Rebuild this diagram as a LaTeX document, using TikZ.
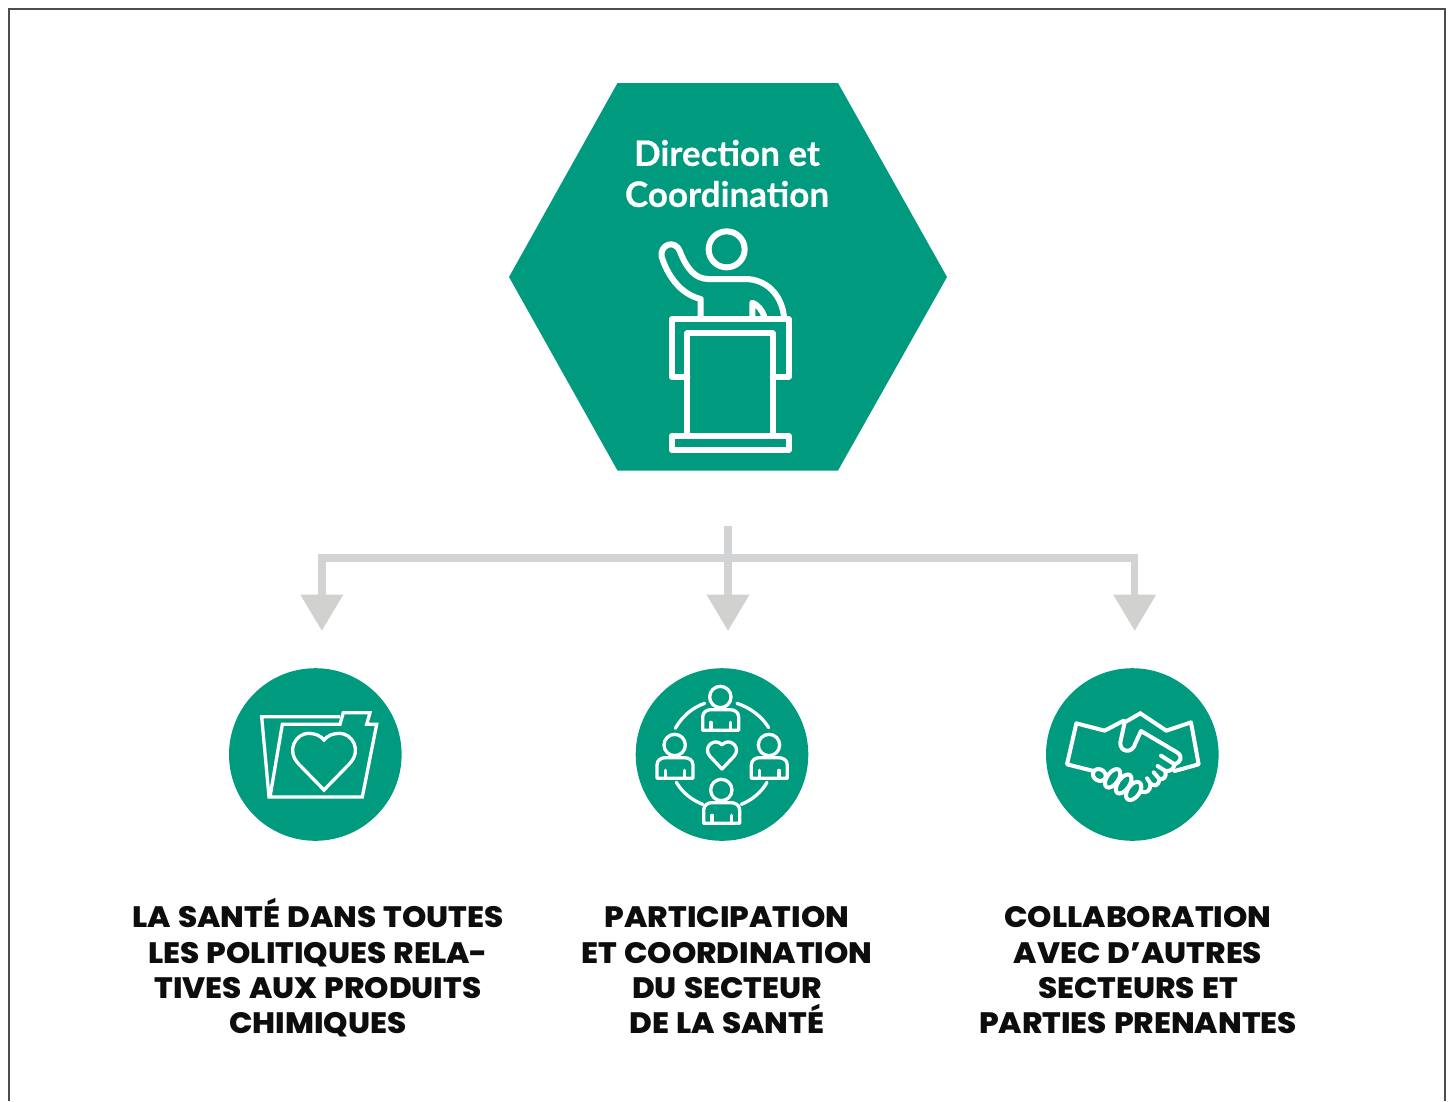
\documentclass[tikz,border=0pt]{standalone}
\usepackage{fontspec}
\setmainfont[BoldFont={Poppins ExtraBold}, BoldFeatures={FakeStretch=1.05, WordSpace=1.2}]{Poppins}
\newfontfamily\hexfont[BoldFeatures={FakeBold=0.4}]{Lato}
\usetikzlibrary{arrows.meta, calc}
\definecolor{brandgreen}{HTML}{009B7F}
\definecolor{flowgray}{HTML}{D1D3D4}
\definecolor{tipgray}{HTML}{D1D1CF}
\definecolor{framegray}{HTML}{4D4D4D}
\tikzset{
  iconcircle/.style={circle, fill=brandgreen, minimum size=172.6pt, inner sep=0pt},
  flowline/.style={draw=flowgray, line width=7.5pt},
  flowarrow/.style={flowline, -{Triangle[width=41pt, length=36.5pt, color=tipgray]}},
  iconline/.style={draw=white, line join=round, line cap=round},
  captext/.style={font=\fontsize{29.5}{35.3}\selectfont\bfseries, align=center, text=black!95, inner sep=0pt,
    execute at begin node=\vphantom{É}, execute at end node=\strut},
  zoomcrop/.style={x=0.3333pt, y=-0.3333pt}
}

\begin{document}
\begin{tikzpicture}[x=1pt, y=-1pt]
    \useasboundingbox (0,0) rectangle (1453,1101);
    \draw[framegray, line width=1.2pt] (9,1101) -- (9,9) -- (1445,9) -- (1445,1101);

    \fill[brandgreen] (509,277) -- (617.5,83) -- (838,83) -- (947,277) -- (838,470.5) -- (617.5,470.5) -- cycle;
    \node[font=\hexfont\fontsize{35}{41}\selectfont\bfseries, text=white, align=center] (hexlabel) at (727,173.5) {
      Direction et\\
      Coordination
    };

    \begin{scope}[shift={(630,220)}, zoomcrop, iconline, line width=6pt]
      \draw (290,88) circle[radius=54];
      \draw (212,290) -- (212,237) .. controls (150,222) and (112,165) .. (95,110)
        .. controls (88,75) and (135,55) .. (150,95)
        .. controls (170,145) and (195,177) .. (235,177) -- (345,177)
        .. controls (410,177) and (455,225) .. (462,290);
      \draw (367,290) -- (367,248) .. controls (385,255) and (397,272) .. (403,290);
      \draw (172,470) -- (125,470) -- (125,298) -- (476,298) -- (476,470) -- (428,470);
      \draw (172,648) -- (172,340) -- (428,340) -- (428,648);
      \draw (125,648) rectangle (476,690);
    \end{scope}

    \coordinate (trunktop) at (728,526);
    \coordinate (barleft) at (321.8,558);
    \coordinate (barright) at (1134.7,558);
    \coordinate (tipleft) at (321.8,631);
    \coordinate (tipmid) at (728,631);
    \coordinate (tipright) at (1134.7,631);
    \draw[flowline] (barleft) -- (barright);
    \draw[flowarrow] (trunktop) -- (tipmid);
    \foreach \from/\to in {barleft/tipleft, barright/tipright} {
      \draw[flowarrow] ($(\from)+(0,-3.75)$) -- (\to);
    }

    \node[iconcircle] (santecircle) at (315.3,754.5) {};
    \node[iconcircle] (partcircle) at (722,754.5) {};
    \node[iconcircle] (collabcircle) at (1132.3,754.5) {};

    \begin{scope}[shift={(225,665)}, zoomcrop, iconline, line width=3.3pt, line cap=butt, line join=miter]
      \draw (345,155) -- (110,155) -- (132,396) -- (412,396) -- (455,178) -- (425,178) -- (435,143) -- (355,143) -- (345,178) -- (172,178) -- (135,396);
      \draw (297,375) -- (222,298) .. controls (180,255) and (215,205) .. (250,205)
        .. controls (270,205) and (287,212) .. (297,225)
        .. controls (307,212) and (324,205) .. (344,205)
        .. controls (380,205) and (414,255) .. (372,298) -- cycle;
    \end{scope}

    \begin{scope}[shift={(632,665)}, zoomcrop, iconline, line width=3.3pt]
      \foreach \cx/\cy in {265/96, 128/240, 411/240, 268/375} {
        \begin{scope}[shift={(\cx,\cy)}]
          \draw (0,0) circle[radius=32];
          \draw (-53,100) -- (-53,60) .. controls (-53,45) and (-40,38) .. (-28,38) -- (28,38)
            .. controls (42,38) and (55,45) .. (55,60) -- (55,100) -- cycle;
          \draw (-28,100) -- (-28,76);
          \draw (30,100) -- (30,76);
        \end{scope}
      }
      \draw (218,115) .. controls (180,128) and (150,155) .. (130,190);
      \draw (315,115) .. controls (355,128) and (390,155) .. (410,188);
      \draw (133,352) .. controls (153,385) and (180,405) .. (212,418);
      \draw (328,418) .. controls (360,405) and (388,382) .. (405,352);
      \draw (270,312) -- (235,275) .. controls (212,250) and (240,225) .. (258,232)
        .. controls (264,234) and (268,237) .. (270,240)
        .. controls (272,237) and (276,234) .. (282,232)
        .. controls (300,225) and (328,250) .. (305,275) -- cycle;
    \end{scope}

    \begin{scope}[shift={(1042,665)}, zoomcrop, iconline, line width=4pt]
      \draw (245,167) -- (188,197) -- (103,175) -- (75,298) -- (155,318);
      \draw (295,145) -- (373,197) -- (447,172) -- (470,298) -- (398,318);
      \draw (295,145) -- (248,172) -- (235,232) .. controls (232,262) and (272,268) .. (280,235)
        -- (297,198) -- (405,262) .. controls (425,275) and (415,292) .. (398,298) -- (357,272);
      \draw (398,298) .. controls (395,312) and (385,320) .. (370,318) -- (347,303);
      \draw (370,318) .. controls (375,335) and (365,345) .. (352,342) -- (335,322);
      \draw (352,342) .. controls (350,365) and (335,365) .. (325,355) -- (315,340);
      \draw (325,358) .. controls (325,378) and (315,385) .. (297,380);
      \draw[rotate around={-30:(172,330)}] (172,330) ellipse[x radius=20, y radius=17];
      \draw[rotate around={-35:(212,340)}] (212,340) ellipse[x radius=17, y radius=32];
      \draw[rotate around={-35:(245,357)}] (245,357) ellipse[x radius=17, y radius=33];
      \draw[rotate around={-35:(275,378)}] (275,378) ellipse[x radius=18, y radius=31];
    \end{scope}

    \node[captext] (santetext) at (318,971.5) {
      LA SANTÉ DANS TOUTES\\
      LES POLITIQUES RELA-\\
      TIVES AUX PRODUITS\\
      CHIMIQUES
    };
    \node[captext] (parttext) at (727,975.5) {
      PARTICIPATION\\
      ET COORDINATION\\
      DU SECTEUR\\
      DE LA SANTÉ
    };
    \node[captext] (collabtext) at (1138,975.5) {
      COLLABORATION\\
      AVEC D’AUTRES\\
      SECTEURS ET\\
      PARTIES PRENANTES
    };
\end{tikzpicture}
\end{document}
